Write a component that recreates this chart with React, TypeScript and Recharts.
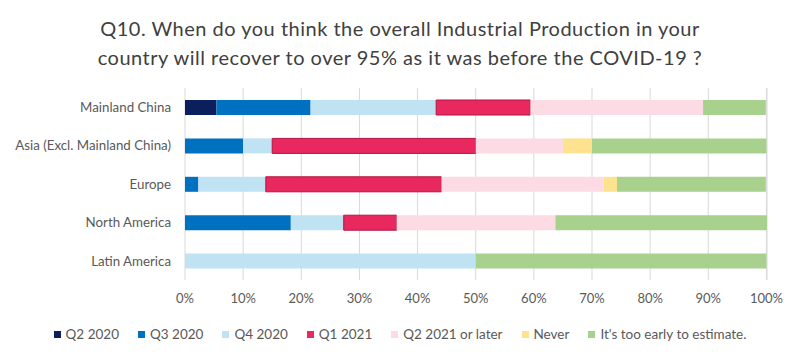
import { BarChart, Bar, XAxis, YAxis, CartesianGrid, Legend } from 'recharts';

// survey answers, share of respondents (%)
const regions = ['Mainland China', 'Asia (Excl. Mainland China)', 'Europe', 'North America', 'Latin America'];
const q2of2020 = [5.4, 0, 0, 0, 0];
const q3of2020 = [16.2, 10, 2.3, 18.2, 0];
const q4of2020 = [21.6, 5, 11.6, 9.1, 50];
const q1of2021 = [16.2, 35, 30.2, 9.1, 0];
const q2of2021Later = [29.7, 15, 27.9, 27.3, 0];
const never = [0, 5, 2.3, 0, 0];
const tooEarly = [10.8, 30, 25.6, 36.4, 50];
const percentTicks = [0, 10, 20, 30, 40, 50, 60, 70, 80, 90, 100];

const series = [
  { key: 'q2_2020', name: 'Q2 2020', values: q2of2020, color: '#0b1f5c' },
  { key: 'q3_2020', name: 'Q3 2020', values: q3of2020, color: '#0070c0' },
  { key: 'q4_2020', name: 'Q4 2020', values: q4of2020, color: '#bfe3f2' },
  { key: 'q1_2021', name: 'Q1 2021', values: q1of2021, color: '#e8285f', stroke: '#b3153f' },
  { key: 'q2_2021', name: 'Q2 2021 or later', values: q2of2021Later, color: '#fcdbe5' },
  { key: 'never', name: 'Never', values: never, color: '#fde38f' },
  { key: 'early', name: "It's too early to estimate.", values: tooEarly, color: '#a9d18e' },
];

const data = regions.map((region, i) => {
  const row: any = { region };
  series.forEach((s) => {
    row[s.key] = s.values[i];
  });
  return row;
});

const FONT = 'Lato, "Open Sans", sans-serif';
const order = series.map((s) => s.name);

function LegendRow({ payload }: any) {
  // keep the series order, not the alphabetical one
  const items = [...(payload || [])].sort((a: any, b: any) => order.indexOf(a.value) - order.indexOf(b.value));
  return (
    <div style={{ display: 'flex', justifyContent: 'center', gap: 19, fontFamily: FONT, fontSize: 13.5, color: '#595959' }}>
      {items.map((p: any) => (
        <div key={p.value} style={{ display: 'flex', alignItems: 'center' }}>
          <span style={{ display: 'inline-block', width: 7, height: 7, background: p.color, marginRight: 5 }} />
          <span>{p.value}</span>
        </div>
      ))}
    </div>
  );
}

export default function App() {
  return (
    <div style={{ position: 'absolute', left: 0, top: 0, width: 800, height: 356, background: '#fff' }}>
      <div
        style={{
          position: 'absolute',
          top: 14,
          left: 0,
          width: 800,
          textAlign: 'center',
          fontFamily: FONT,
          fontSize: 20,
          letterSpacing: 0.5,
          lineHeight: '29px',
          color: '#404040',
        }}
      >
        Q10. When do you think the overall Industrial Production in your
        <br />
        country will recover to over 95% as it was before the COVID-19 ?
      </div>
      <BarChart
        width={800}
        height={356}
        data={data}
        layout="vertical"
        barSize={15}
        margin={{ top: 88, right: 33, bottom: 46, left: 0 }}
        style={{ position: 'absolute', left: 0, top: 0 }}
      >
        <CartesianGrid horizontal={false} stroke="#d9d9d9" />
        <XAxis
          type="number"
          domain={[0, 100]}
          ticks={percentTicks}
          tickFormatter={(v) => `${v}%`}
          axisLine={false}
          tickLine={false}
          tickMargin={8}
          height={30}
          tick={{ fill: '#595959', fontSize: 13, fontFamily: FONT }}
        />
        <YAxis
          type="category"
          dataKey="region"
          width={185}
          axisLine={false}
          tickLine={false}
          tickMargin={8}
          tick={{ fill: '#595959', fontSize: 13.3, fontFamily: FONT }}
        />
        <Legend
          verticalAlign="middle"
          align="center"
          layout="horizontal"
          wrapperStyle={{ top: 326, left: 0, width: 800 }}
          content={<LegendRow />}
        />
        {series.map((s) => (
          <Bar
            key={s.key}
            dataKey={s.key}
            name={s.name}
            stackId="a"
            fill={s.color}
            stroke={s.stroke}
            strokeWidth={s.stroke ? 1 : 0}
            isAnimationActive={false}
          />
        ))}
      </BarChart>
    </div>
  );
}
